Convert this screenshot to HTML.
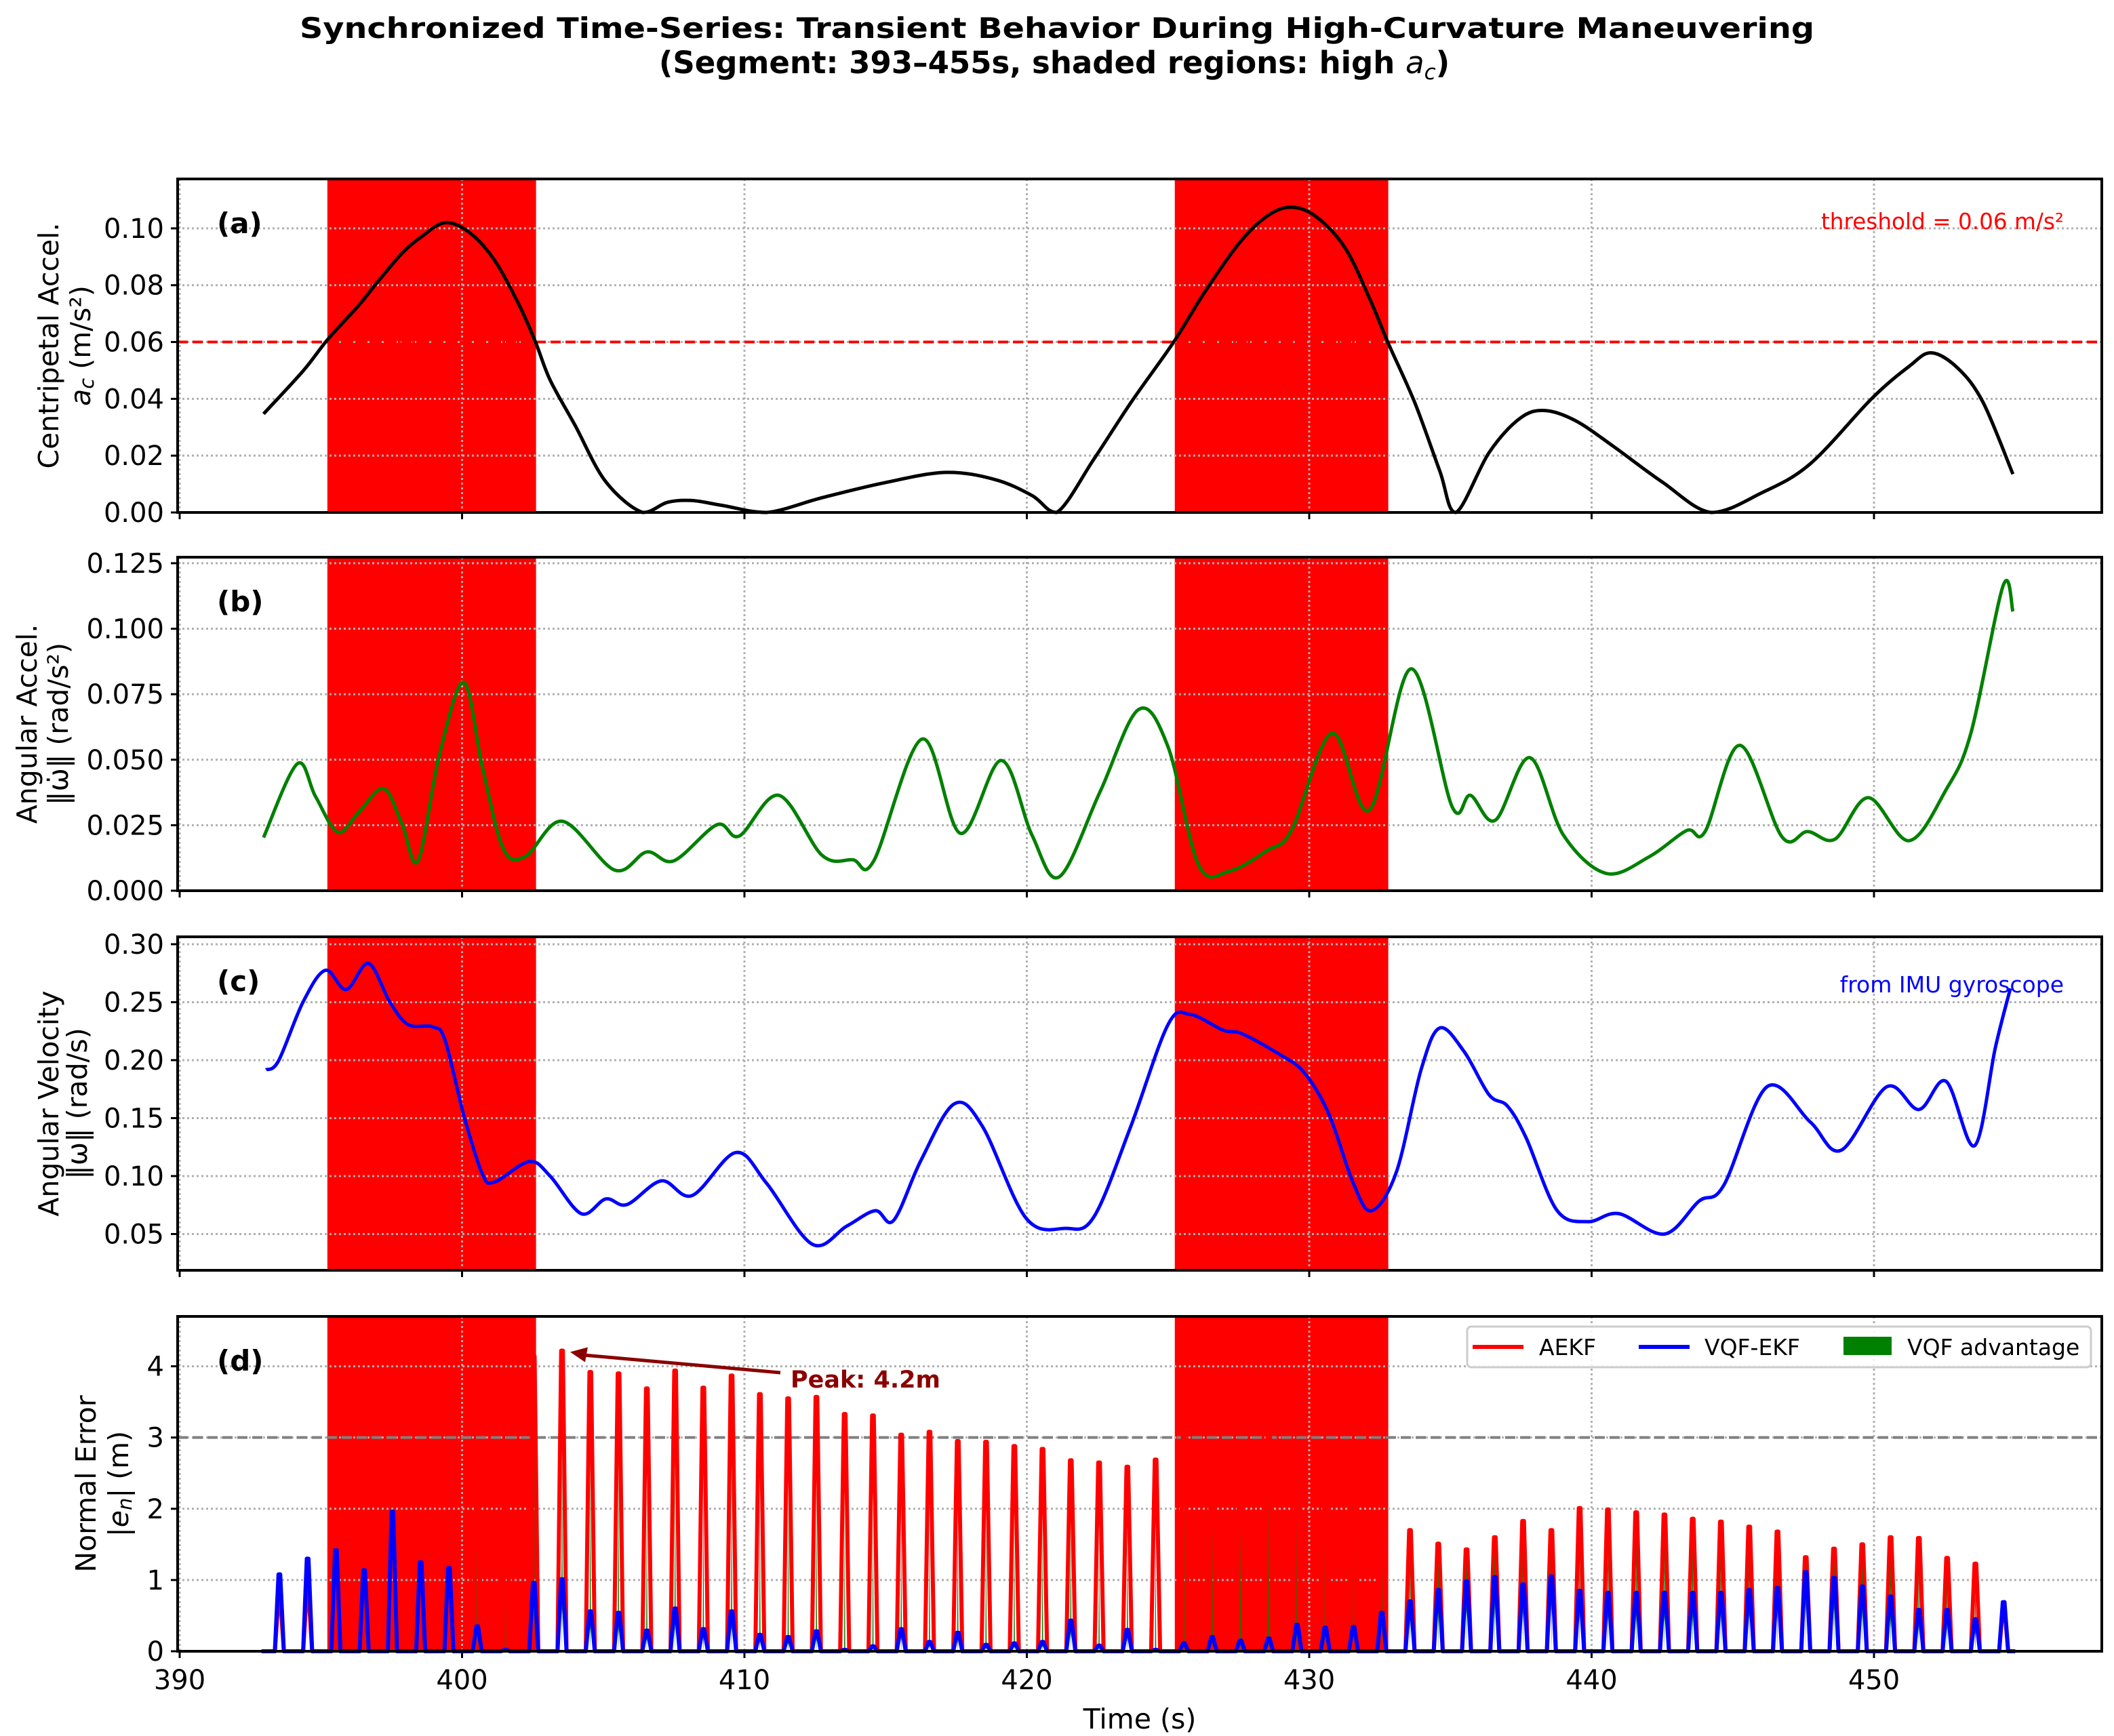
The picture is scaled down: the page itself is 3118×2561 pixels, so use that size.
<!DOCTYPE html>
<html><head><meta charset="utf-8"><title>Synchronized Time-Series</title>
<style>html,body{margin:0;padding:0;background:#fff}svg{display:block}text{font-family:"DejaVu Sans","Liberation Sans",sans-serif}</style>
</head><body>
<svg id="fig" xmlns="http://www.w3.org/2000/svg" width="3118" height="2561" viewBox="0 0 3118 2561">
<rect x="0" y="0" width="3118" height="2561" fill="#fff"/>
<text x="1559" y="56" text-anchor="middle" font-size="42" font-weight="bold" textLength="2234" lengthAdjust="spacingAndGlyphs">Synchronized Time-Series: Transient Behavior During High-Curvature Maneuvering</text>
<text x="1555" y="108" text-anchor="middle" font-size="45" font-weight="bold">(Segment: 393–455s, shaded regions: high <tspan font-style="italic" font-weight="normal">a</tspan><tspan font-style="italic" font-weight="normal" font-size="31" dy="9">c</tspan><tspan dy="-9">)</tspan></text>
<g id="layer"></g>
</svg>
<script>
// ---------- data ----------
const shadeStart = [395.23, 425.24];
const shadeEnd = [402.62, 432.8];
const xTicks = [390, 400, 410, 420, 430, 440, 450];

const acT = [392.97,394.37,395.25,396.34,397.0,397.87,398.53,399.4,400.28,401.15,402.03,402.6,403.12,404.0,405.09,406.4,407.28,408.15,409.25,410.78,412.75,414.93,417.12,418.87,420.18,421.06,422.37,423.68,425.2,426.31,427.62,428.71,429.59,430.46,431.34,432.21,432.78,433.74,434.62,435.19,436.37,437.46,438.34,439.43,440.74,442.49,444.24,446.0,447.74,449.93,451.24,452.03,452.99,453.87,454.92];
const acV = [0.0347,0.0498,0.061,0.0729,0.081,0.0912,0.0968,0.102,0.0984,0.0888,0.0729,0.06,0.0466,0.0307,0.0108,0,0.0036,0.0042,0.0024,0,0.0052,0.0104,0.0141,0.0116,0.006,0,0.0187,0.0386,0.06,0.0777,0.096,0.1056,0.1072,0.1024,0.092,0.0737,0.06,0.0386,0.0147,0,0.0211,0.0331,0.0359,0.0323,0.0235,0.0108,0,0.0068,0.0171,0.0402,0.0514,0.0562,0.0506,0.0386,0.0135];
const acTicks = [0, 0.02, 0.04, 0.06, 0.08, 0.10];
const acTickLabels = ["0.00","0.02","0.04","0.06","0.08","0.10"];
const acThreshold = 0.06;

const aaT = [392.97,394.16,394.81,395.6,396.34,397.22,397.87,398.44,399.19,400.06,400.72,401.46,402.25,403.56,405.4,406.54,407.5,409.03,409.82,411.22,412.75,413.84,414.58,416.29,417.65,419.09,420.18,421.15,422.59,423.95,425.0,426.09,427.18,428.5,429.37,430.81,432.13,433.61,435.06,435.71,436.59,437.81,439.0,440.52,442.06,443.37,444.02,445.25,446.74,447.65,448.62,449.8,451.24,452.55,453.43,454.57,454.92];
const aaV = [0.0203,0.0484,0.036,0.0223,0.0299,0.039,0.0256,0.0114,0.0515,0.0795,0.0472,0.0161,0.0131,0.0265,0.0079,0.0148,0.0114,0.0252,0.0209,0.0364,0.0135,0.0118,0.0114,0.0579,0.0219,0.0497,0.0213,0.0053,0.0377,0.0691,0.0549,0.0097,0.0075,0.0153,0.023,0.0601,0.0308,0.0847,0.0321,0.0364,0.0269,0.0508,0.0213,0.0066,0.0131,0.023,0.0226,0.0555,0.0206,0.0226,0.0197,0.0355,0.0191,0.0385,0.0601,0.1163,0.1066];
const aaTicks = [0, 0.025, 0.05, 0.075, 0.1, 0.125];
const aaTickLabels = ["0.000","0.025","0.050","0.075","0.100","0.125"];

const avT = [393.06,393.5,394.37,395.16,395.9,396.69,397.44,398.09,398.97,399.4,400.06,400.72,401.15,402.38,403.12,404.22,405.09,405.84,407.06,408.15,409.69,410.78,412.4,413.62,414.63,415.28,416.25,417.43,418.43,419.97,421.36,422.37,423.68,425.0,425.78,426.96,427.62,428.93,429.81,430.68,431.56,432.21,433.09,433.96,434.62,435.49,436.37,437.02,437.68,438.77,439.87,440.96,442.58,443.8,444.68,446.21,447.74,448.84,450.45,451.59,452.55,453.56,454.3,454.83];
const avV = [0.1916,0.1994,0.2502,0.2775,0.2609,0.2834,0.2502,0.2307,0.2287,0.217,0.1525,0.1018,0.0949,0.1125,0.1,0.0676,0.0803,0.0754,0.0959,0.0832,0.1203,0.0939,0.0412,0.0568,0.0701,0.0617,0.1135,0.1623,0.1428,0.0637,0.0549,0.0646,0.1428,0.2307,0.2395,0.2258,0.2228,0.2053,0.1896,0.1545,0.0939,0.0701,0.1037,0.1916,0.2277,0.2072,0.1701,0.1604,0.133,0.0705,0.0607,0.0676,0.05,0.0783,0.092,0.177,0.1467,0.1223,0.177,0.1574,0.1818,0.1262,0.2111,0.2619];
const avTicks = [0.05, 0.10, 0.15, 0.20, 0.25, 0.30];
const avTickLabels = ["0.05","0.10","0.15","0.20","0.25","0.30"];

const spikeStart = 393.53;
const spikeStep = 1.001;
const aekfPeaks = [0.75,0.83,0.7,0.77,0.8,0.75,0.8,2.03,2.94,4.14,4.22,3.92,3.90,3.69,3.94,3.70,3.87,3.61,3.55,3.57,3.33,3.31,3.04,3.08,2.95,2.94,2.88,2.84,2.68,2.65,2.59,2.69,3.08,2.80,2.58,3.37,2.63,2.20,2.74,1.69,1.70,1.51,1.43,1.60,1.83,1.70,2.01,1.99,1.95,1.92,1.86,1.82,1.75,1.68,1.32,1.44,1.50,1.60,1.59,1.31,1.23,0.6];
const vqfPeaks = [1.08,1.30,1.42,1.14,1.96,1.25,1.17,0.35,0.02,0.96,1.01,0.56,0.54,0.29,0.60,0.31,0.56,0.23,0.20,0.28,0.02,0.07,0.31,0.13,0.26,0.09,0.11,0.13,0.43,0.08,0.30,0.02,0.11,0.20,0.15,0.18,0.37,0.33,0.34,0.54,0.70,0.86,0.98,1.04,0.94,1.05,0.85,0.82,0.82,0.82,0.82,0.82,0.86,0.89,1.11,1.03,0.91,0.77,0.58,0.58,0.45,0.69];
const errTicks = [0, 1, 2, 3, 4];
const errTickLabels = ["0","1","2","3","4"];
const errRef = 3.0;
const peakValue = 4.22;

// ---------- layout ----------
const NS = "http://www.w3.org/2000/svg";
const layer = document.getElementById('layer');
const AX_L = 262, AX_R = 3100;
const X0 = 265, PX_PER_S = 41.65;
function sx(t){ return X0 + (t - 390) * PX_PER_S; }

function el(tag, attrs, parent){
  const e = document.createElementNS(NS, tag);
  for (const k in attrs) e.setAttribute(k, attrs[k]);
  (parent || layer).appendChild(e);
  return e;
}
function catmull(pts, yClamp){
  let d = "M" + pts[0][0].toFixed(1) + "," + pts[0][1].toFixed(1);
  for (let i = 0; i < pts.length - 1; i++){
    const p0 = pts[Math.max(0,i-1)], p1 = pts[i], p2 = pts[i+1], p3 = pts[Math.min(pts.length-1,i+2)];
    let c1x = p1[0] + (p2[0]-p0[0])/6, c1y = p1[1] + (p2[1]-p0[1])/6;
    let c2x = p2[0] - (p3[0]-p1[0])/6, c2y = p2[1] - (p3[1]-p1[1])/6;
    if (yClamp !== undefined){ c1y = Math.min(c1y, yClamp); c2y = Math.min(c2y, yClamp); }
    d += " C" + c1x.toFixed(1)+","+c1y.toFixed(1)+" "+c2x.toFixed(1)+","+c2y.toFixed(1)+" "+p2[0].toFixed(1)+","+p2[1].toFixed(1);
  }
  return d;
}

function panel(cfg){
  const g = el('g', {});
  
  
  const top = cfg.top, bot = cfg.bot;
  const sy = v => bot - (v - cfg.ymin) * (bot - top) / (cfg.ymax - cfg.ymin);
  for (let i = 0; i < shadeStart.length; i++){
    const r = el('rect', {x: sx(shadeStart[i]), y: top, width: sx(shadeEnd[i]) - sx(shadeStart[i]), height: bot - top, fill: '#ff0000'}, g);
    
    
  }
  xTicks.forEach(t => {
    const l = el('line', {x1: sx(t), x2: sx(t), y1: top, y2: bot, stroke: '#b0b0b0', 'stroke-width': 3, 'stroke-dasharray': '3 4'}, g);
    
    
  });
  cfg.ticks.forEach((v, i) => {
    const y = sy(v);
    const l = el('line', {x1: AX_L, x2: AX_R, y1: y, y2: y, stroke: '#b0b0b0', 'stroke-width': 3, 'stroke-dasharray': '3 4'}, g);
    
    
    const tk = el('line', {x1: AX_L - 10, x2: AX_L, y1: y, y2: y, stroke: '#000', 'stroke-width': 3}, g);
    
    
    const tx = el('text', {x: AX_L - 20, y: y + 14, 'text-anchor': 'end', 'font-size': 40}, g);
    tx.textContent = cfg.tickLabels[i];
    
    
  });
  xTicks.forEach(t => {
    const tk = el('line', {x1: sx(t), x2: sx(t), y1: bot, y2: bot + 10, stroke: '#000', 'stroke-width': 3}, g);
    
    
  });
  cfg.draw(g, sy);
  const fr = el('rect', {x: AX_L, y: top, width: AX_R - AX_L, height: bot - top, fill: 'none', stroke: '#000', 'stroke-width': 4}, g);
  
  
  const pl = el('text', {x: 320, y: top + 80, 'font-size': 42, 'font-weight': 'bold'}, g);
  pl.textContent = cfg.letter;
  
  
  const cy = (top + bot) / 2;
  const yl = el('text', {transform: 'translate(' + cfg.lab1x + ',' + cy + ') rotate(-90)', 'text-anchor': 'middle', 'dominant-baseline': 'central', 'font-size': 41}, g);
  yl.textContent = cfg.lab1;
  
  
  const yl2 = el('text', {transform: 'translate(' + cfg.lab2x + ',' + cy + ') rotate(-90)', 'text-anchor': 'middle', 'dominant-baseline': 'central', 'font-size': 41}, g);
  yl2.innerHTML = cfg.lab2;
  
  
  return sy;
}

panel({name: 'panel-a-centripetal', top: 264, bot: 756, ymin: 0, ymax: 0.1174, ticks: acTicks, tickLabels: acTickLabels, letter: '(a)',
  lab1: 'Centripetal Accel.', lab1x: 72, lab2x: 119,
  lab2: '<tspan font-style="italic">a</tspan><tspan font-style="italic" font-size="29" dy="9">c</tspan><tspan dy="-9"> (m/s²)</tspan>',
  draw: (g, sy) => {
    const th = el('line', {x1: AX_L, x2: AX_R, y1: sy(acThreshold), y2: sy(acThreshold), stroke: '#ff0000', 'stroke-width': 4, 'stroke-dasharray': '15 7'}, g);
    
    
    const pts = acT.map((t, i) => [sx(t), sy(acV[i])]);
    const p = el('path', {d: catmull(pts, sy(0)), fill: 'none', stroke: '#000', 'stroke-width': 5, 'stroke-linejoin': 'round'}, g);
    
    
    const tt = el('text', {x: 3044, y: 338, 'text-anchor': 'end', 'font-size': 33, fill: '#ff0000', textLength: 358, lengthAdjust: 'spacingAndGlyphs'}, g);
    tt.textContent = 'threshold = 0.06 m/s²';
    
    
  }});

panel({name: 'panel-b-angular-accel', top: 822, bot: 1314, ymin: 0, ymax: 0.1273, ticks: aaTicks, tickLabels: aaTickLabels, letter: '(b)',
  lab1: 'Angular Accel.', lab1x: 40, lab2x: 86,
  lab2: '‖ω̇‖ (rad/s²)',
  draw: (g, sy) => {
    const pts = aaT.map((t, i) => [sx(t), sy(aaV[i])]);
    const p = el('path', {d: catmull(pts), fill: 'none', stroke: '#008000', 'stroke-width': 5, 'stroke-linejoin': 'round'}, g);
    
    
  }});

panel({name: 'panel-c-angular-velocity', top: 1382, bot: 1874, ymin: 0.0187, ymax: 0.3064, ticks: avTicks, tickLabels: avTickLabels, letter: '(c)',
  lab1: 'Angular Velocity', lab1x: 72, lab2x: 114,
  lab2: '‖ω‖ (rad/s)',
  draw: (g, sy) => {
    const pts = avT.map((t, i) => [sx(t), sy(avV[i])]);
    const p = el('path', {d: catmull(pts), fill: 'none', stroke: '#0000ff', 'stroke-width': 5, 'stroke-linejoin': 'round'}, g);
    
    
    const tt = el('text', {x: 3044, y: 1464, 'text-anchor': 'end', 'font-size': 33, fill: '#0000ff'}, g);
    tt.textContent = 'from IMU gyroscope';
    
    
  }});

panel({name: 'panel-d-normal-error', top: 1942, bot: 2436, ymin: 0, ymax: 4.70, ticks: errTicks, tickLabels: errTickLabels, letter: '(d)',
  lab1: 'Normal Error', lab1x: 127, lab2x: 175,
  lab2: '|<tspan font-style="italic">e</tspan><tspan font-style="italic" font-size="29" dy="9">n</tspan><tspan dy="-9">| (m)</tspan>',
  draw: (g, sy) => {
    const ref = el('line', {x1: AX_L, x2: AX_R, y1: sy(errRef), y2: sy(errRef), stroke: '#808080', 'stroke-width': 4, 'stroke-dasharray': '15 7'}, g);
    
    
    function spikePath(vals){
      let d = "M" + sx(392.9).toFixed(1) + "," + sy(0).toFixed(1);
      vals.forEach((v, i) => {
        const t = spikeStart + i * spikeStep;
        d += " L" + sx(t-0.16).toFixed(1) + "," + sy(0).toFixed(1);
        d += " L" + sx(t-0.03).toFixed(1) + "," + sy(v).toFixed(1);
        d += " L" + sx(t+0.03).toFixed(1) + "," + sy(v).toFixed(1);
        d += " L" + sx(t+0.16).toFixed(1) + "," + sy(0).toFixed(1);
      });
      d += " L" + sx(455).toFixed(1) + "," + sy(0).toFixed(1);
      return d;
    }
    const rp = el('path', {d: spikePath(aekfPeaks), fill: 'none', stroke: '#ff0000', 'stroke-width': 6, 'stroke-linejoin': 'round'}, g);
    
    
    aekfPeaks.forEach((r, i) => {
      const b = vqfPeaks[i];
      if (r <= b) return;
      const t = spikeStart + i * spikeStep;
      const gtop = b + 0.65 * (r - b);
      const poly = el('polygon', {points: sx(t-0.02)+","+sy(b)+" "+sx(t)+","+sy(gtop)+" "+sx(t+0.02)+","+sy(b)+" "+sx(t)+","+sy(0), fill: '#008000'}, g);
      
      
    });
    const bp = el('path', {d: spikePath(vqfPeaks), fill: 'none', stroke: '#0000ff', 'stroke-width': 6, 'stroke-linejoin': 'round'}, g);
    
    
    const pi = aekfPeaks.indexOf(Math.max.apply(null, aekfPeaks));
    const tp = spikeStart + pi * spikeStep;
    const ax = sx(tp) + 12, ay = sy(peakValue) + 2;
    const ar = el('line', {x1: 1151, y1: 2025, x2: ax + 14, y2: ay + 4, stroke: '#8b0000', 'stroke-width': 5}, g);
    
    
    const ah = el('polygon', {points: ax+","+ay+" "+(ax+26)+","+(ay-7)+" "+(ax+22)+","+(ay+15), fill: '#8b0000'}, g);
    
    
    const pt = el('text', {x: 1166, y: 2047, 'font-size': 35, 'font-weight': 'bold', fill: '#8b0000'}, g);
    pt.textContent = 'Peak: ' + (Math.round(peakValue*10)/10) + 'm';
    
    
    const lg = el('g', {}, g);
    
    
    el('rect', {x: 2164, y: 1957, width: 920, height: 60, rx: 6, fill: '#fff', 'fill-opacity': 0.85, stroke: '#cccccc', 'stroke-width': 3}, lg);
    const items = [['AEKF', '#ff0000', 2172, 2270, 'line'], ['VQF-EKF', '#0000ff', 2417, 2514, 'line'], ['VQF advantage', '#008000', 2719, 2813, 'patch']];
    items.forEach(it => {
      const e = el('g', {}, lg);
      
      
      if (it[4] === 'line') el('line', {x1: it[2], x2: it[2] + 75, y1: 1987, y2: 1987, stroke: it[1], 'stroke-width': 6}, e);
      else el('rect', {x: it[2], y: 1972, width: 71, height: 27, fill: it[1]}, e);
      const tx = el('text', {x: it[3], y: 1999, 'font-size': 33}, e);
      tx.textContent = it[0];
    });
  }});

xTicks.forEach(t => {
  const tx = el('text', {x: sx(t), y: 2492, 'text-anchor': 'middle', 'font-size': 40});
  tx.textContent = String(t);
  
  
});
const xl = el('text', {x: 1681, y: 2550, 'text-anchor': 'middle', 'font-size': 41});
xl.textContent = 'Time (s)';


</script>
</body></html>
